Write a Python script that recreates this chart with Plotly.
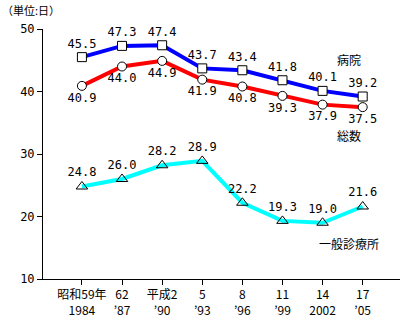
import plotly.graph_objects as go

categories = ["昭和59年<br>1984", "62<br>’87", "平成2<br>’90", "5<br>’93", "8<br>’96", "11<br>’99", "14<br>2002", "17<br>’05"]
hospital = [45.5, 47.3, 47.4, 43.7, 43.4, 41.8, 40.1, 39.2]
total = [40.9, 44.0, 44.9, 41.9, 40.8, 39.3, 37.9, 37.5]
clinic = [24.8, 26.0, 28.2, 28.9, 22.2, 19.3, 19.0, 21.6]
yticks = [10, 20, 30, 40, 50]

x = list(range(len(categories)))
numfont = dict(family="DejaVu Sans Mono, monospace", size=12, color="black")
jpfont = dict(family="Noto Sans CJK JP", size=12, color="black")

fig = go.Figure()
fig.add_trace(go.Scatter(
    x=x, y=clinic, mode="lines+markers+text",
    line=dict(color="#00FFFF", width=4),
    marker=dict(symbol="triangle-up-open", size=10, color="black", line=dict(width=1)),
    text=[f"{v:.1f}" for v in clinic], textposition="top center", textfont=numfont,
    cliponaxis=False, showlegend=False))
fig.add_trace(go.Scatter(
    x=x, y=total, mode="lines+markers+text",
    line=dict(color="#FF0000", width=4),
    marker=dict(symbol="circle", size=9, color="white", line=dict(color="black", width=1)),
    text=[f"{v:.1f}" for v in total], textposition="bottom center", textfont=numfont,
    cliponaxis=False, showlegend=False))
fig.add_trace(go.Scatter(
    x=x, y=hospital, mode="lines+markers+text",
    line=dict(color="#0000FF", width=4),
    marker=dict(symbol="square", size=9, color="white", line=dict(color="black", width=1)),
    text=[f"{v:.1f}" for v in hospital], textposition="top center", textfont=numfont,
    cliponaxis=False, showlegend=False))

fig.add_annotation(x=0, y=1, xref="paper", yref="paper", xshift=-43, yshift=29,
                   text="（単位:日）", showarrow=False, xanchor="left", yanchor="top",
                   font=dict(family="Noto Sans CJK JP", size=11, color="black"))
fig.add_annotation(x=6.3, y=45.1, text="病院", showarrow=False, xanchor="left", font=jpfont)
fig.add_annotation(x=6.3, y=32.9, text="総数", showarrow=False, xanchor="left", font=jpfont)
fig.add_annotation(x=5.86, y=15.7, text="一般診療所", showarrow=False, xanchor="left", font=jpfont)

fig.update_xaxes(range=[-0.97, 7.93], tickvals=x, ticktext=categories, showline=True,
                 linecolor="black", linewidth=1, ticks="outside", ticklen=5, tickcolor="black",
                 showgrid=False, zeroline=False,
                 tickfont=dict(family="Noto Sans CJK JP", size=12, color="black"))
fig.update_yaxes(range=[10, 50], tickvals=yticks, showline=True, linecolor="black", linewidth=1,
                 ticks="outside", ticklen=5, tickcolor="black", showgrid=False, zeroline=False,
                 tickfont=numfont)
fig.update_layout(width=405, height=323, margin=dict(l=43, r=5, t=29, b=41),
                  plot_bgcolor="white", paper_bgcolor="white")
fig.write_html("out.html")
